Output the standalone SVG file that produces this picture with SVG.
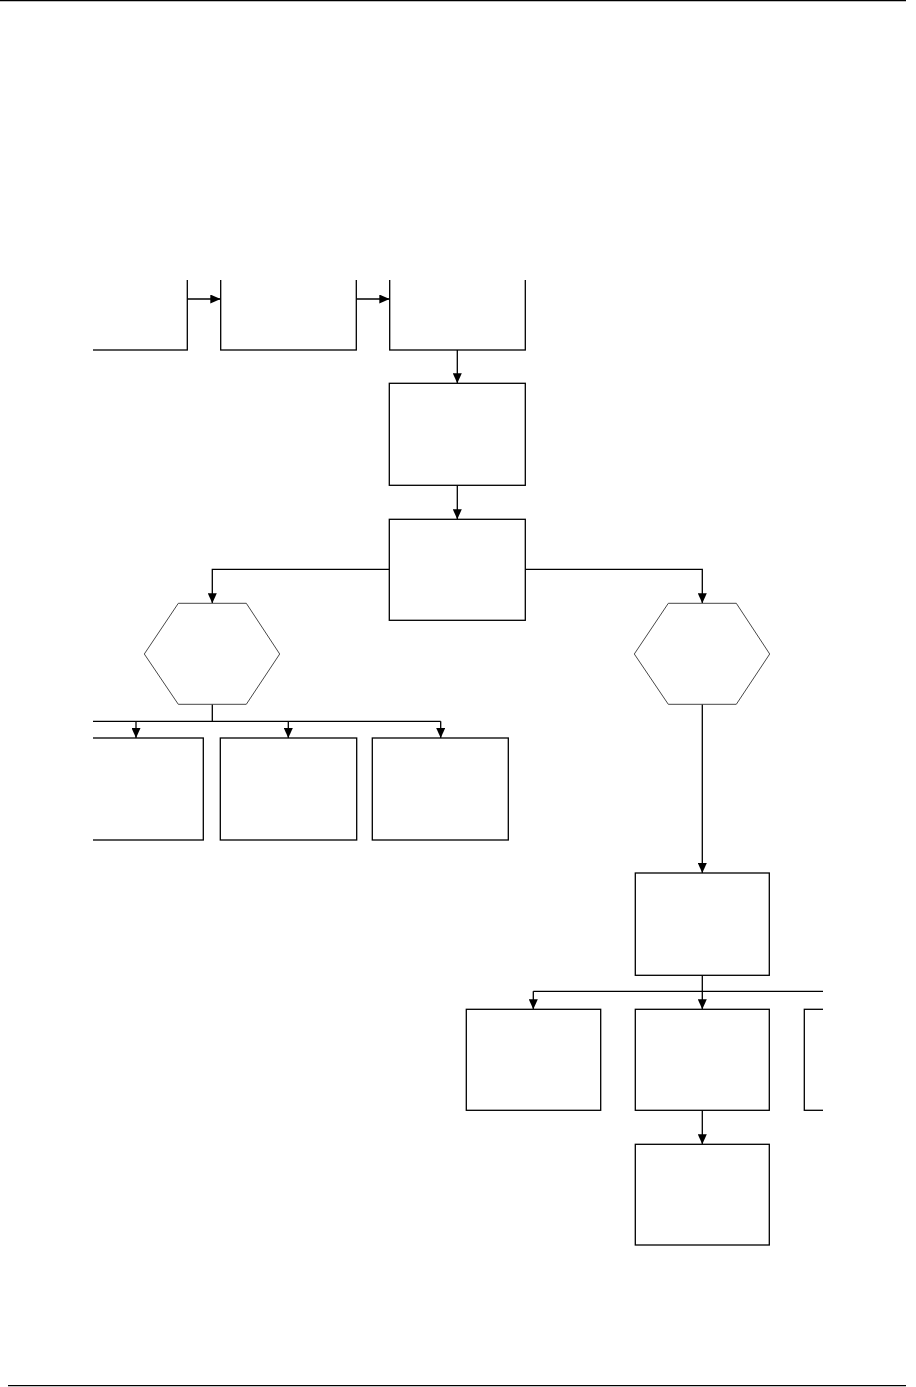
<svg xmlns="http://www.w3.org/2000/svg" width="916" height="1387" viewBox="0 0 916 1387">
<style>
.box{fill:#fff;stroke:#000;stroke-width:1.3}
.hex{fill:#fff;stroke:#333;stroke-width:0.9}
.con{fill:none;stroke:#000;stroke-width:1.3}
.rule{stroke:#000;stroke-width:1.3}
</style>
<defs>
<marker id="arr" viewBox="0 0 10 9" refX="10" refY="4.5" markerWidth="10" markerHeight="9" markerUnits="userSpaceOnUse" orient="auto">
<path d="M0,0 L10,4.5 L0,9 z" fill="#000"/>
</marker>
<clipPath id="area"><rect x="93" y="280" width="730" height="1100"/></clipPath>
</defs>
<rect width="916" height="1387" fill="#fff"/>
<line class="rule" x1="0" y1="0.7" x2="906" y2="0.7"/>
<line class="rule" x1="8" y1="1385.7" x2="906" y2="1385.7"/>
<g clip-path="url(#area)">
<g id="connectors">
<path class="con" d="M187.3,299 H220.3" marker-end="url(#arr)"/>
<path class="con" d="M356.3,299 H389.3" marker-end="url(#arr)"/>
<path class="con" d="M457.3,350 V383.3" marker-end="url(#arr)"/>
<path class="con" d="M457.3,485.3 V519.3" marker-end="url(#arr)"/>
<path class="con" d="M389.3,569.3 H212.3 V603.3" marker-end="url(#arr)"/>
<path class="con" d="M525.3,569.3 H702.3 V603.3" marker-end="url(#arr)"/>
<path class="con" d="M212.3,704.3 V721.3 M60,721.3 H440.7"/>
<path class="con" d="M136,721.3 V738" marker-end="url(#arr)"/>
<path class="con" d="M288.3,721.3 V738" marker-end="url(#arr)"/>
<path class="con" d="M440.7,721.3 V738" marker-end="url(#arr)"/>
<path class="con" d="M702.3,704.3 V873" marker-end="url(#arr)"/>
<path class="con" d="M702.3,975.3 V991.3 M533.3,991.3 H900"/>
<path class="con" d="M533.3,991.3 V1009.3" marker-end="url(#arr)"/>
<path class="con" d="M702.3,991.3 V1009.3" marker-end="url(#arr)"/>
<path class="con" d="M702.3,1110.3 V1144.3" marker-end="url(#arr)"/>
</g>
<g id="n1"><rect class="box" x="50" y="250" width="137.3" height="100"/></g>
<g id="n2"><rect class="box" x="220.7" y="250" width="135.6" height="100"/></g>
<g id="n3"><rect class="box" x="389.7" y="250" width="135.6" height="100"/></g>
<g id="n4"><rect class="box" x="389.3" y="383.3" width="136" height="102"/></g>
<g id="n5"><rect class="box" x="389.3" y="519.3" width="136" height="101"/></g>
<g id="h1"><polygon class="hex" points="178.3,603.3 246.3,603.3 279.7,654 246.3,704.3 178.3,704.3 144.3,654"/></g>
<g id="h2"><polygon class="hex" points="668.3,603.3 736.3,603.3 769.7,654 736.3,704.3 668.3,704.3 634.3,654"/></g>
<g id="n6"><rect class="box" x="60" y="738" width="143.3" height="102"/></g>
<g id="n7"><rect class="box" x="220.3" y="738" width="136.4" height="102"/></g>
<g id="n8"><rect class="box" x="372.3" y="738" width="136" height="102"/></g>
<g id="n9"><rect class="box" x="635.3" y="873" width="134" height="102.3"/></g>
<g id="n10"><rect class="box" x="466.3" y="1009.3" width="134.4" height="101"/></g>
<g id="n11"><rect class="box" x="635.3" y="1009.3" width="134" height="101"/></g>
<g id="n12"><rect class="box" x="804.3" y="1009.3" width="134" height="101"/></g>
<g id="n13"><rect class="box" x="635.3" y="1144.3" width="134" height="100.7"/></g>
</g>
</svg>
